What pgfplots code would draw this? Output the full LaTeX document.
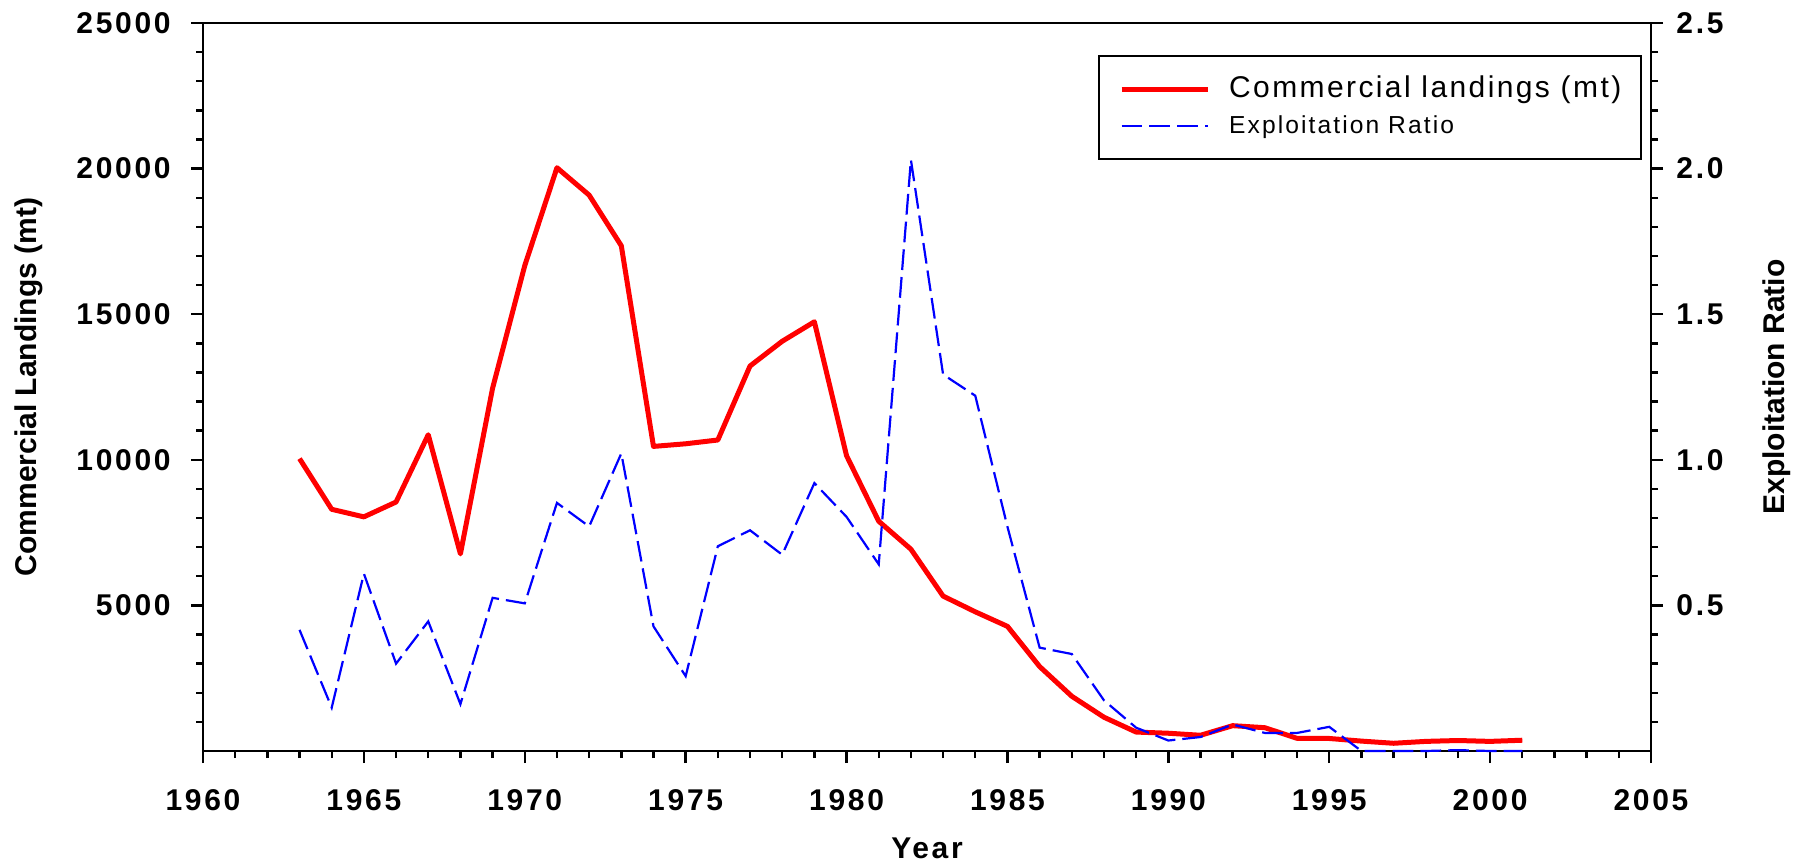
\documentclass[border=0pt]{standalone}
\usepackage{fontspec}
\setmainfont{Liberation Sans}
\newfontfamily\tickfont[LetterSpace=9]{Liberation Sans}
\newfontfamily\legAfont[LetterSpace=8]{Liberation Sans}
\newfontfamily\legBfont[LetterSpace=8.5]{Liberation Sans}
\usepackage{pgfplots}
\usepackage{pgfplotstable}
\pgfplotsset{compat=1.18}

\pgfplotstableread{
year land
1963 10040
1964 8300
1965 8040
1966 8550
1967 10860
1968 6770
1969 12460
1970 16670
1971 20030
1972 19090
1973 17350
1974 10460
1975 10550
1976 10680
1977 13220
1978 14070
1979 14740
1980 10140
1981 7890
1982 6930
1983 5320
1984 4780
1985 4280
1986 2900
1987 1880
1988 1160
1989 650
1990 610
1991 540
1992 870
1993 800
1994 435
1995 430
1996 340
1997 265
1998 330
1999 360
2000 330
2001 370
}\landtable

\pgfplotstableread{
year ratio
1963 0.416
1964 0.149
1965 0.609
1966 0.300
1967 0.445
1968 0.161
1969 0.526
1970 0.507
1971 0.852
1972 0.771
1973 1.022
1974 0.428
1975 0.257
1976 0.703
1977 0.758
1978 0.674
1979 0.920
1980 0.804
1981 0.641
1982 2.030
1983 1.293
1984 1.220
1985 0.770
1986 0.355
1987 0.333
1988 0.174
1989 0.080
1990 0.036
1991 0.048
1992 0.091
1993 0.062
1994 0.062
1995 0.083
1996 0.000
1997 0.000
1998 0.000
1999 0.003
2000 0.000
2001 0.000
}\ratiotable

\newcommand{\tickf}{\tickfont\bfseries\fontsize{15}{18}\selectfont}

\begin{document}
\begin{tikzpicture}
\path[use as bounding box] (-101.5pt,-58pt) rectangle (798.5pt,375.5pt);
\begin{axis}[
  scale only axis, width=724pt, height=364pt,
  xmin=1960, xmax=2005, ymin=0, ymax=25000,
  xtick={1960,1965,...,2005}, minor x tick num=4,
  ytick={5000,10000,15000,20000,25000},
  minor ytick={1000,2000,3000,4000,6000,7000,8000,9000,11000,12000,13000,14000,16000,17000,18000,19000,21000,22000,23000,24000},
  scaled y ticks=false, scaled x ticks=false,
  xtick pos=bottom, ytick pos=left, tick align=outside,
  major tick length=6pt, minor tick length=3.5pt,
  every tick/.style={black, line width=1.2pt},
  axis line style={line width=1.3pt},
  /pgf/number format/.cd, 1000 sep={}, assume math mode=true, /pgfplots/.cd,
  ticklabel style={font=\tickf, inner sep=0pt},
  xticklabel style={anchor=base, yshift=-23.7pt},
  yticklabel style={anchor=east, xshift=-10pt},
  xlabel={Year},
  xlabel style={at={(axis description cs:0.5,-0.147)}, anchor=base, font=\tickf, inner sep=0pt},
  ylabel={Commercial Landings (mt)},
  ylabel style={at={(axis description cs:-0.1149,0.5)}, anchor=base, font=\bfseries\fontsize{15}{18}\selectfont, inner sep=0pt},
]
\addplot[red, line width=2.5pt, line join=round] table[x=year, y=land] {\landtable};
\end{axis}
\begin{axis}[
  scale only axis, width=724pt, height=364pt,
  xmin=1960, xmax=2005, ymin=0, ymax=2.5,
  axis x line=none, axis y line*=right,
  clip=false,
  ytick={0.5,1.0,1.5,2.0,2.5},
  minor ytick={0.1,0.2,0.3,0.4,0.6,0.7,0.8,0.9,1.1,1.2,1.3,1.4,1.6,1.7,1.8,1.9,2.1,2.2,2.3,2.4},
  scaled y ticks=false,
  tick align=outside,
  major tick length=6pt, minor tick length=3.5pt,
  every tick/.style={black, line width=1.2pt},
  axis line style={line width=1.3pt},
  /pgf/number format/.cd, fixed, fixed zerofill, precision=1, assume math mode=true, /pgfplots/.cd,
  yticklabel style={font=\tickf, inner sep=0pt, anchor=west, xshift=6.5pt},
  ylabel={Exploitation Ratio},
  ylabel style={at={(axis description cs:1.0919,0.5)}, anchor=base, font=\bfseries\fontsize{15}{18}\selectfont, inner sep=0pt},
  legend image code/.code={\draw[#1] (0pt,0pt) -- (43pt,0pt);},
  legend style={at={(0.994,0.956)}, anchor=north east, draw=black, line width=1pt,
    inner xsep=10pt, inner ysep=9.6pt, row sep=4.25pt,
    nodes={inner sep=0pt, text height=11pt, text depth=3pt},
    cells={anchor=west},
    /tikz/every odd column/.append style={column sep=9.5pt}},
]
\addlegendimage{red, line width=2.5pt}
\addlegendentry{\legAfont\fontsize{15}{18}\selectfont Commercial landings (mt)\hspace{6pt}}
\addplot[blue, line width=1.1pt, dash pattern=on 10.4pt off 3.5pt] table[x=year, y=ratio] {\ratiotable};
\addlegendentry{\legBfont\fontsize{12.3}{15}\selectfont Exploitation Ratio}
\end{axis}
\end{tikzpicture}
\end{document}
